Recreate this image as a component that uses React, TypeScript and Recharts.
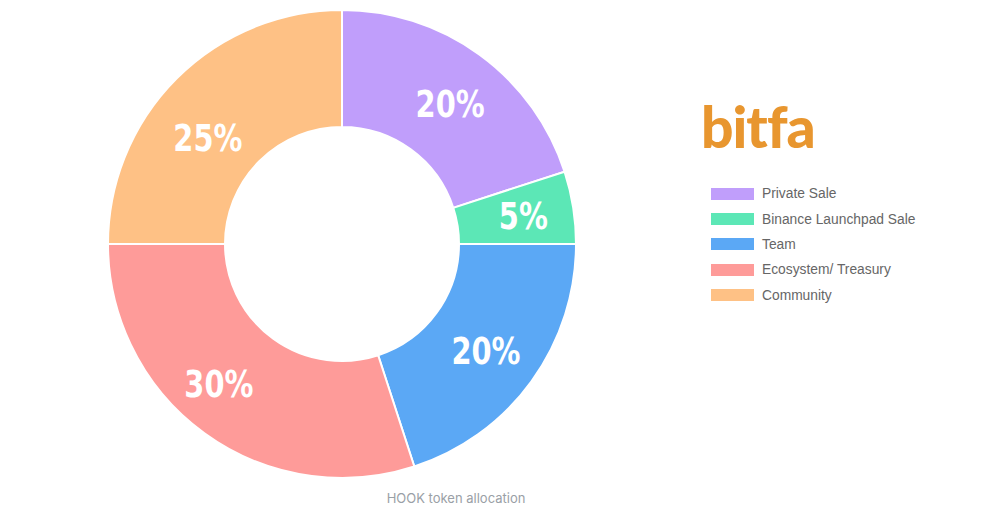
import { PieChart, Pie, Cell, Legend } from 'recharts';

const categories = ['Private Sale', 'Binance Launchpad Sale', 'Team', 'Ecosystem/ Treasury', 'Community'];
const shares = [20, 5, 20, 30, 25];
const colors = ['#c09efb', '#5ce7b6', '#5ba8f5', '#fe9b99', '#fec185'];
// small nudges so the % labels sit where the original put them
const labelShift = [[5, 2], [8, 0], [2, 4], [-20, -2], [-10, 18]];

const data = categories.map((name, i) => ({ name, value: shares[i] }));

const RADIAN = Math.PI / 180;

const renderLabel = (props: any) => {
  const { cx, cy, midAngle, innerRadius, outerRadius, value, index } = props;
  const r = (innerRadius + outerRadius) / 2;
  const [sx, sy] = labelShift[index] || [0, 0];
  const x = cx + r * Math.cos(-midAngle * RADIAN) + sx;
  const y = cy + r * Math.sin(-midAngle * RADIAN) + sy;
  return (
    <text
      x={0}
      y={0}
      transform={`translate(${x},${y}) scale(0.78,1)`}
      fill="#fff"
      textAnchor="middle"
      dominantBaseline="central"
      fontFamily="'DejaVu Sans', sans-serif"
      fontWeight="bold"
      fontSize={37}
    >
      {value}%
    </text>
  );
};

const renderLegend = () => (
  <div style={{ fontFamily: "'Liberation Sans', Arial, sans-serif", fontSize: 13.8, color: '#666' }}>
    {categories.map((c, i) => (
      <div key={c} style={{ display: 'flex', alignItems: 'center', height: 25.4 }}>
        <span style={{ display: 'inline-block', width: 43, height: 12, background: colors[i], marginRight: 8 }} />
        <span>{c}</span>
      </div>
    ))}
  </div>
);

export default function App() {
  return (
    <div style={{ position: 'absolute', left: 0, top: 0, width: 1000, height: 519, background: '#fff' }}>
      <PieChart width={1000} height={519} margin={{ top: 0, right: 0, bottom: 0, left: 0 }}>
        <Pie
          data={data}
          dataKey="value"
          nameKey="name"
          cx={342}
          cy={244}
          innerRadius={117}
          outerRadius={234}
          startAngle={90}
          endAngle={-270}
          stroke="#fff"
          strokeWidth={2}
          label={renderLabel}
          labelLine={false}
          isAnimationActive={false}
        >
          {data.map((d, i) => (
            <Cell key={d.name} fill={colors[i]} />
          ))}
        </Pie>
        <Legend
          content={renderLegend}
          layout="vertical"
          wrapperStyle={{ position: 'absolute', left: 711, top: 181, width: 260 }}
        />
      </PieChart>
      <div
        style={{
          position: 'absolute',
          left: 701,
          top: 92,
          fontFamily: "Lato, 'Open Sans', sans-serif",
          fontWeight: 900,
          fontSize: 57,
          color: '#e8962f',
          letterSpacing: -1,
        }}
      >
        bitfa
      </div>
      <div
        style={{
          position: 'absolute',
          left: 356,
          width: 200,
          top: 490,
          textAlign: 'center',
          fontFamily: 'Inter, sans-serif',
          fontSize: 13,
          color: '#9aa0a6',
        }}
      >
        HOOK token allocation
      </div>
    </div>
  );
}
